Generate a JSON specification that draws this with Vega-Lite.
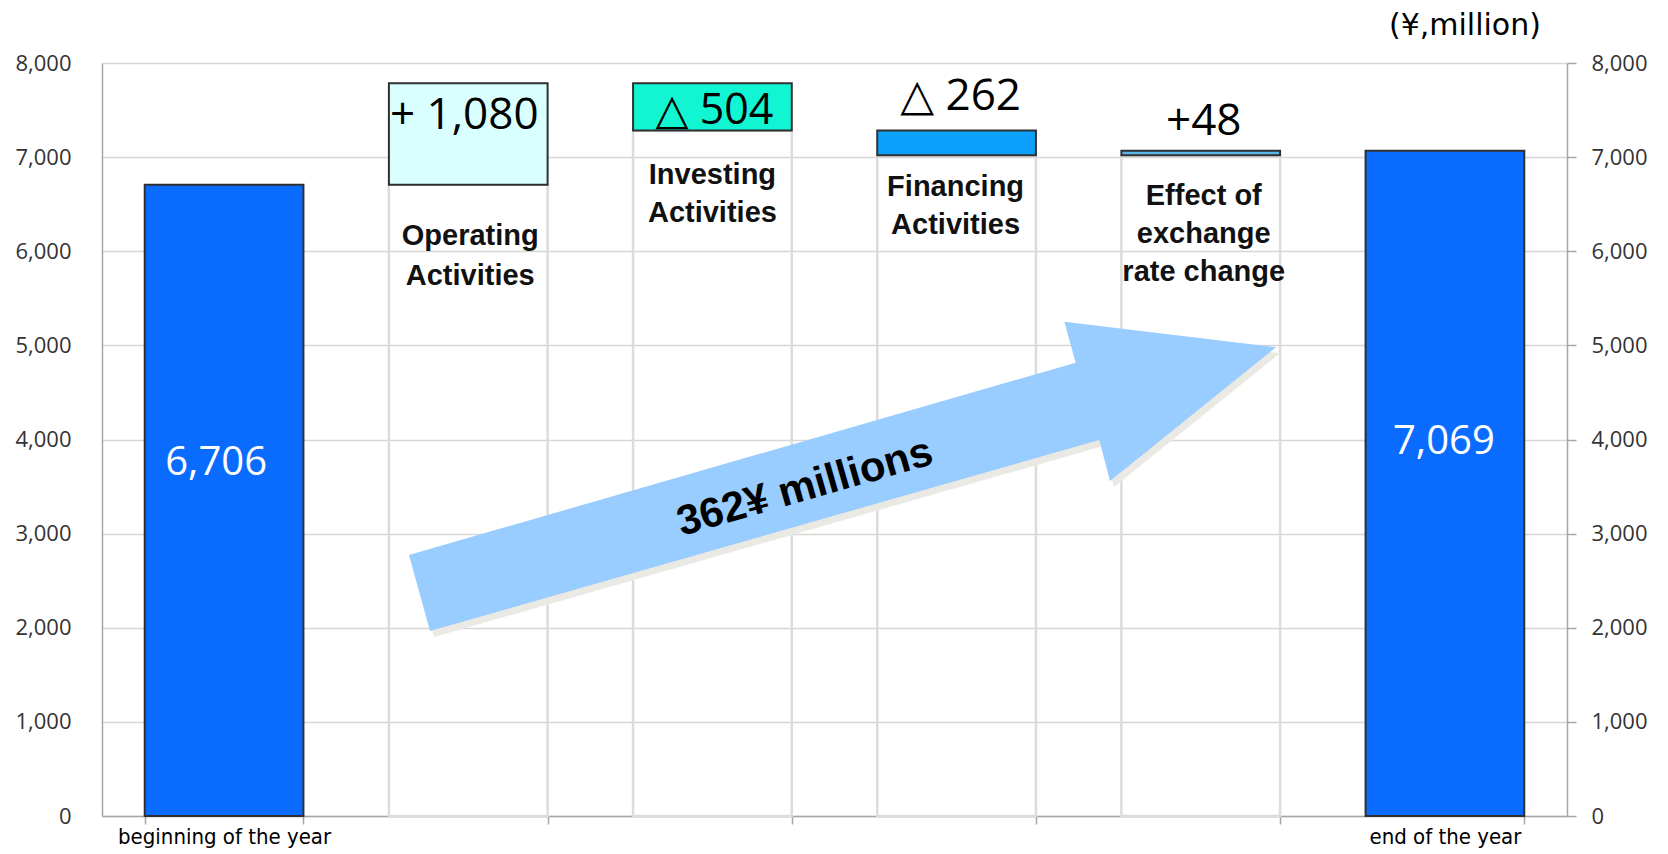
{
  "$schema": "https://vega.github.io/schema/vega-lite/v6.json",
  "width": 1465,
  "height": 753,
  "autosize": {"type": "none"},
  "padding": {"left": 102, "top": 63, "right": 101, "bottom": 38},
  "background": "white",
  "config": {"view": {"stroke": null}},
  "datasets": {
    "bars": [
      {"item": "beginning of the year", "start": 0, "end": 6706, "base": null, "valueText": "6,706", "catText": null},
      {"item": "Operating Activities", "start": 6706, "end": 7786, "base": 6706, "valueText": "+ 1,080", "catText": "Operating\nActivities"},
      {"item": "Investing Activities", "start": 7786, "end": 7282, "base": 7282, "valueText": "△ 504", "catText": "Investing\nActivities"},
      {"item": "Financing Activities", "start": 7282, "end": 7020, "base": 7020, "valueText": "△ 262", "catText": "Financing\nActivities"},
      {"item": "Effect of exchange rate change", "start": 7020, "end": 7068, "base": 7020, "valueText": "+48", "catText": "Effect of\nexchange\nrate change"},
      {"item": "end of the year", "start": 0, "end": 7069, "base": null, "valueText": "7,069", "catText": null}
    ],
    "arrow": [{"caption": "362¥ millions"}],
    "unit": [{"caption": "(¥,million)"}]
  },
  "data": {"name": "bars"},
  "resolve": {"axis": {"y": "independent"}},
  "layer": [
    {
      "transform": [{"filter": "isValid(datum.base)"}],
      "mark": {"type": "bar", "fill": "transparent", "stroke": "#dcdcdc", "strokeWidth": 2.5},
      "encoding": {
        "x": {
          "field": "item", "type": "nominal",
          "scale": {"domain": ["beginning of the year", "Operating Activities", "Investing Activities", "Financing Activities", "Effect of exchange rate change", "end of the year"], "paddingInner": 0.35, "paddingOuter": 0.175},
          "axis": {"orient": "bottom", "title": null, "labelAngle": 0, "labelLimit": 0, "labelExpr": "indexof(datum.label, 'year') >= 0 ? datum.label : ''", "labelFont": "DejaVu Sans Condensed, DejaVu Sans", "labelFontSize": 22, "labelColor": "#000000", "labelPadding": 2, "tickBand": "extent", "tickSize": 8, "tickColor": "#a6a6a6", "tickWidth": 1.5, "domainColor": "#a6a6a6", "domainWidth": 1.5, "grid": false}
        },
        "y": {
          "field": "base", "type": "quantitative",
          "scale": {"domain": [0, 8000], "nice": false},
          "axis": {"orient": "left", "title": null, "values": [0, 1000, 2000, 3000, 4000, 5000, 6000, 7000, 8000], "format": ",.0f", "grid": true, "gridColor": "#d6d6d6", "gridWidth": 1.5, "domainColor": "#a6a6a6", "domainWidth": 1.5, "ticks": false, "labelPadding": 31, "labelFont": "Open Sans", "labelFontSize": 22, "labelColor": "#333333"}
        }
      }
    },
    {
      "mark": {"type": "bar", "stroke": "#303030", "strokeWidth": 2},
      "encoding": {
        "x": {"field": "item", "type": "nominal"},
        "y": {
          "field": "start", "type": "quantitative",
          "axis": {"orient": "right", "title": null, "values": [0, 1000, 2000, 3000, 4000, 5000, 6000, 7000, 8000], "format": ",.0f", "grid": false, "domainColor": "#a6a6a6", "domainWidth": 1.5, "tickColor": "#a6a6a6", "tickWidth": 1.5, "tickSize": 9, "labelPadding": 15, "labelFont": "Open Sans", "labelFontSize": 22, "labelColor": "#333333"}
        },
        "y2": {"field": "end"},
        "fill": {
          "field": "item", "type": "nominal", "legend": null,
          "scale": {"domain": ["beginning of the year", "Operating Activities", "Investing Activities", "Financing Activities", "Effect of exchange rate change", "end of the year"], "range": ["#0a6cff", "#d9ffff", "#12f5d3", "#0aa0fb", "#5ab6e6", "#0a6cff"]}
        }
      }
    },
    {
      "data": {"name": "arrow"},
      "mark": {"type": "point", "filled": true, "opacity": 1, "size": 4, "fill": "#ebe9e4", "stroke": null, "shape": "M-543.6,121.5L123.1,-70.8L111.7,-111.8L323.4,-86.2L157.4,47.5L146.7,6.5L-522.6,197.5Z"},
      "encoding": {
        "x": {"datum": "Financing Activities", "type": "nominal"},
        "y": {"datum": 4000, "type": "quantitative", "axis": null}
      }
    },
    {
      "data": {"name": "arrow"},
      "mark": {"type": "point", "filled": true, "opacity": 1, "size": 4, "fill": "#99ccff", "stroke": null, "shape": "M-547.6,115.5L119.1,-76.8L107.7,-117.8L319.4,-92.2L153.4,41.5L142.7,0.5L-526.6,191.5Z"},
      "encoding": {
        "x": {"datum": "Financing Activities", "type": "nominal"},
        "y": {"datum": 4000, "type": "quantitative", "axis": null}
      }
    },
    {
      "data": {"name": "arrow"},
      "mark": {"type": "text", "font": "Liberation Sans", "fontWeight": "bold", "fontSize": 42, "fill": "#000000", "angle": 344, "align": "center", "baseline": "middle", "dx": -159, "dy": 4},
      "encoding": {
        "x": {"datum": "Financing Activities", "type": "nominal"},
        "y": {"datum": 4000, "type": "quantitative", "axis": null},
        "text": {"field": "caption"}
      }
    },
    {
      "data": {"name": "unit"},
      "mark": {"type": "text", "font": "DejaVu Sans", "fontSize": 30, "fill": "#000000", "align": "right", "baseline": "alphabetic", "dx": 96, "dy": -28},
      "encoding": {
        "x": {"datum": "end of the year", "type": "nominal"},
        "y": {"datum": 8000, "type": "quantitative", "axis": null},
        "text": {"field": "caption"}
      }
    },
    {
      "transform": [{"filter": "datum.item == 'beginning of the year'"}],
      "mark": {"type": "text", "font": "Open Sans", "fontSize": 40, "fill": "#ffffff", "baseline": "middle", "dy": 278, "dx": -8},
      "encoding": {"x": {"field": "item", "type": "nominal"}, "y": {"field": "end", "type": "quantitative", "axis": null}, "text": {"field": "valueText"}}
    },
    {
      "transform": [{"filter": "datum.item == 'end of the year'"}],
      "mark": {"type": "text", "font": "Open Sans", "fontSize": 40, "fill": "#ffffff", "baseline": "middle", "dy": 291, "dx": -1},
      "encoding": {"x": {"field": "item", "type": "nominal"}, "y": {"field": "end", "type": "quantitative", "axis": null}, "text": {"field": "valueText"}}
    },
    {
      "transform": [{"filter": "datum.item == 'Operating Activities'"}],
      "mark": {"type": "text", "font": "Open Sans, DejaVu Sans", "fontSize": 44, "fill": "#000000", "baseline": "middle", "dy": 33, "dx": -4},
      "encoding": {"x": {"field": "item", "type": "nominal"}, "y": {"field": "end", "type": "quantitative", "axis": null}, "text": {"field": "valueText"}}
    },
    {
      "transform": [{"filter": "datum.item == 'Investing Activities'"}],
      "mark": {"type": "text", "font": "Open Sans, DejaVu Sans", "fontSize": 43, "fill": "#000000", "baseline": "middle", "dy": 28, "dx": 2},
      "encoding": {"x": {"field": "item", "type": "nominal"}, "y": {"field": "start", "type": "quantitative", "axis": null}, "text": {"field": "valueText"}}
    },
    {
      "transform": [{"filter": "datum.item == 'Financing Activities'"}],
      "mark": {"type": "text", "font": "Open Sans, DejaVu Sans", "fontSize": 44, "fill": "#000000", "baseline": "middle", "dy": -34, "dx": 4},
      "encoding": {"x": {"field": "item", "type": "nominal"}, "y": {"field": "start", "type": "quantitative", "axis": null}, "text": {"field": "valueText"}}
    },
    {
      "transform": [{"filter": "datum.item == 'Effect of exchange rate change'"}],
      "mark": {"type": "text", "font": "Open Sans, DejaVu Sans", "fontSize": 44, "fill": "#000000", "baseline": "middle", "dy": -29, "dx": 3},
      "encoding": {"x": {"field": "item", "type": "nominal"}, "y": {"field": "end", "type": "quantitative", "axis": null}, "text": {"field": "valueText"}}
    },
    {
      "transform": [{"filter": "datum.item == 'Operating Activities'"}],
      "mark": {"type": "text", "font": "Liberation Sans", "fontWeight": "bold", "fontSize": 29, "fill": "#111111", "baseline": "alphabetic", "lineBreak": "\n", "lineHeight": 40, "dy": 60, "dx": 2},
      "encoding": {"x": {"field": "item", "type": "nominal"}, "y": {"field": "base", "type": "quantitative", "axis": null}, "text": {"field": "catText"}}
    },
    {
      "transform": [{"filter": "datum.item == 'Investing Activities'"}],
      "mark": {"type": "text", "font": "Liberation Sans", "fontWeight": "bold", "fontSize": 29, "fill": "#111111", "baseline": "alphabetic", "lineBreak": "\n", "lineHeight": 38, "dy": 53, "dx": 0},
      "encoding": {"x": {"field": "item", "type": "nominal"}, "y": {"field": "base", "type": "quantitative", "axis": null}, "text": {"field": "catText"}}
    },
    {
      "transform": [{"filter": "datum.item == 'Financing Activities'"}],
      "mark": {"type": "text", "font": "Liberation Sans", "fontWeight": "bold", "fontSize": 29, "fill": "#111111", "baseline": "alphabetic", "lineBreak": "\n", "lineHeight": 38, "dy": 41, "dx": -1},
      "encoding": {"x": {"field": "item", "type": "nominal"}, "y": {"field": "base", "type": "quantitative", "axis": null}, "text": {"field": "catText"}}
    },
    {
      "transform": [{"filter": "datum.item == 'Effect of exchange rate change'"}],
      "mark": {"type": "text", "font": "Liberation Sans", "fontWeight": "bold", "fontSize": 29, "fill": "#111111", "baseline": "alphabetic", "lineBreak": "\n", "lineHeight": 38, "dy": 50, "dx": 3},
      "encoding": {"x": {"field": "item", "type": "nominal"}, "y": {"field": "base", "type": "quantitative", "axis": null}, "text": {"field": "catText"}}
    }
  ]
}
